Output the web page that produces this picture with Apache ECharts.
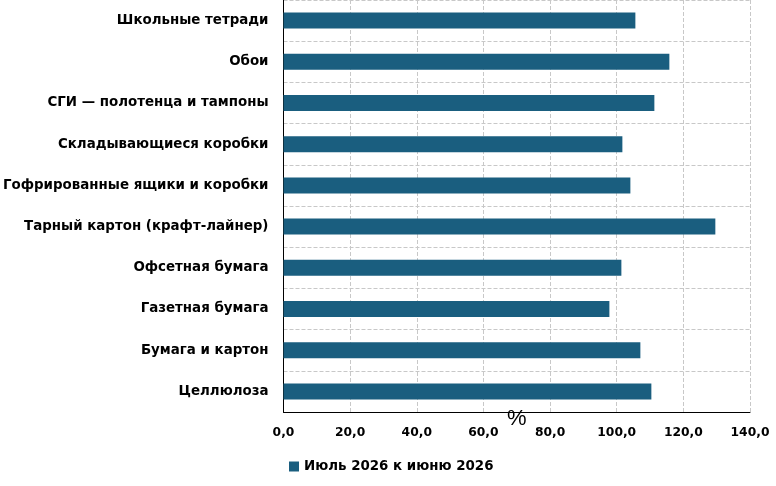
<!DOCTYPE html>
<html>
<head>
<meta charset="utf-8">
<script src="https://cdn.jsdelivr.net/npm/echarts@6/dist/echarts.min.js"></script>
<style>
	html, body { margin: 0; padding: 0; background: #fff; }
	#main { width: 776px; height: 486px; }
</style>
</head>
<body>
<div id="main"></div>
<script>
	// категории сверху вниз
	var categories = [
		'Школьные тетради',
		'Обои',
		'СГИ — полотенца и тампоны',
		'Складывающиеся коробки',
		'Гофрированные ящики и коробки',
		'Тарный картон (крафт-лайнер)',
		'Офсетная бумага',
		'Газетная бумага',
		'Бумага и картон',
		'Целлюлоза'
	];
	var values = [105.6, 115.8, 111.3, 101.7, 104.1, 129.6, 101.4, 97.8, 107.1, 110.4];
	var seriesName = 'Июль 2026 к июню 2026';
	var axisName = '%';

	var boldFont = 'DejaVu Sans';
	var myChart = echarts.init(document.getElementById('main'));
	var option = {
		animation: false,
		textStyle: { fontFamily: 'Liberation Sans, Arial, sans-serif' },
		grid: {
			left: 283,
			right: 26,
			top: 0,
			bottom: 74
		},
		legend: {
			data: [seriesName],
			left: 284,
			top: 455,
			icon: 'rect',
			itemWidth: 10,
			itemHeight: 10,
			itemGap: 4,
			textStyle: {
				color: '#000',
				fontFamily: boldFont,
				fontSize: 13.4,
				fontWeight: 'bold'
			}
		},
		xAxis: {
			type: 'value',
			min: 0,
			max: 140,
			interval: 20,
			name: axisName,
			nameLocation: 'middle',
			nameGap: -4,
			nameMoveOverlap: false,
			nameTextStyle: {
				color: '#000',
				fontSize: 22,
				verticalAlign: 'top'
			},
			axisLine: {
				show: true,
				lineStyle: { color: '#000', width: 1 }
			},
			axisTick: { show: false },
			axisLabel: {
				color: '#000',
				fontFamily: boldFont,
				fontSize: 12.3,
				fontWeight: 'bold',
				margin: 15,
				formatter: function(v) {
					return v.toFixed(1).replace('.', ',');
				}
			},
			splitLine: {
				show: true,
				lineStyle: { color: '#c8c8c8', type: 'dashed' }
			}
		},
		yAxis: {
			type: 'category',
			inverse: true,
			data: categories,
			axisLine: {
				show: true,
				lineStyle: { color: '#000', width: 1 }
			},
			axisTick: { show: false },
			axisLabel: {
				color: '#000',
				fontFamily: boldFont,
				fontSize: 13.4,
				fontWeight: 'bold',
				margin: 15
			},
			splitLine: {
				show: true,
				lineStyle: { color: '#c8c8c8', type: 'dashed' }
			}
		},
		series: [{
			name: seriesName,
			type: 'bar',
			data: values,
			barWidth: 16,
			itemStyle: { color: '#1a5e7f' }
		}]
	};
	myChart.setOption(option);
</script>
</body>
</html>
